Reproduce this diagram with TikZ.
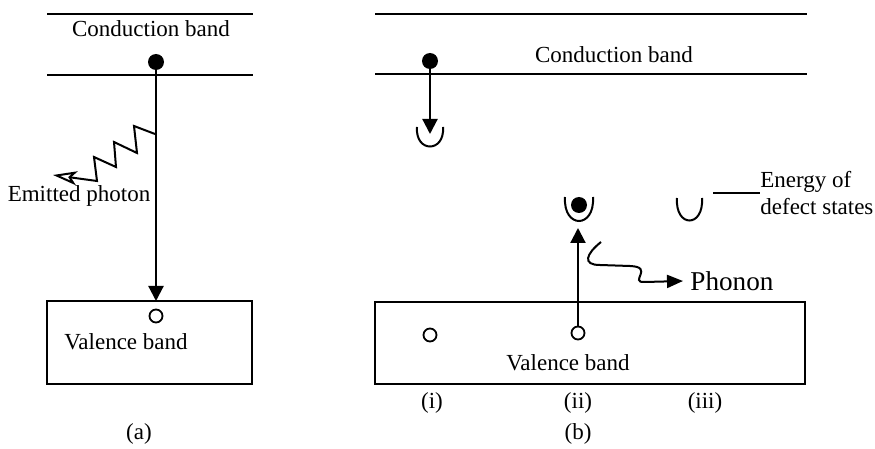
\documentclass[tikz,border=0pt]{standalone}
\usepackage{fontspec}
\setmainfont{Liberation Serif}
\usetikzlibrary{arrows.meta, positioning}
\tikzset{
  band/.style={line width=1pt},
  vbox/.style={draw, line width=0.8pt},
  elec/.style={circle, fill, inner sep=0pt, minimum size=8pt},
  hole/.style={circle, draw, line width=0.9pt, inner sep=0pt, minimum size=6.5pt},
  arrow/.style={-{Triangle[length=7.5pt,width=7.5pt]}, line width=1.1pt},
  cup/.style={line width=1pt},
  lbl/.style={font=\fontsize{11.5}{13.5}\selectfont, inner sep=0pt}
}

\begin{document}
\begin{tikzpicture}[x=0.5pt, y=-0.5pt]
  \useasboundingbox (0,0) rectangle (875,449);

  % (a) Bands
  \draw[band] (47,14) -- (253,14);
  \node[lbl, anchor=base] (cba) at (151,37) {Conduction band};
  \draw[band] (47,75) -- (253,75);
  \draw[vbox] (47,301) rectangle (252,384);
  \node[lbl, anchor=base] (vba) at (126,350) {Valence band};
  \node[lbl, anchor=base] (la) at (139,440) {(a)};

  % (a) Recombination
  \node[elec] (ea) at (156,62) {};
  \node[hole] (ha) at (156,316) {};
  \coordinate (ta) at (156,301);
  \draw[arrow] (ea.south) -- (ta);

  % (a) Photon
  \draw[line width=1pt, -{Stealth[open, length=12pt, width=7pt, inset=3pt]}]
    (155,134) -- (134,126) -- (137,153) -- (114,142) -- (116,167)
    -- (94,157) -- (97,181) -- (53,175);
  \node[lbl, anchor=base] (pha) at (79,202) {Emitted photon};

  % (b) Bands
  \draw[band] (375,14) -- (807,14);
  \node[lbl, anchor=base] (cbb) at (614,63) {Conduction band};
  \draw[band] (375,74) -- (807,74);
  \draw[vbox] (375,302) rectangle (805,384);
  \node[lbl, anchor=base] (vbb) at (568,371) {Valence band};
  \node[lbl, anchor=base] (lb) at (578,440) {(b)};

  % (i)
  \node[elec] (e1) at (430,61) {};
  \draw[cup] (417,127) .. controls (415,153) and (445,153) .. (443,127);
  \coordinate (c1) at (430,134);
  \draw[arrow] (e1.south) -- (c1);
  \node[hole] (h1) at (430,335) {};
  \node[lbl, anchor=base] (li) at (432,409) {(i)};

  % (ii)
  \draw[cup] (565,197) .. controls (563,229) and (595,229) .. (593,197);
  \node[elec] (e2) at (579,205) {};
  \node[hole] (h2) at (578,333) {};
  \coordinate (c2) at (578,228);
  \draw[arrow] (h2.north) -- (c2);
  \node[lbl, anchor=base] (lii) at (578,409) {(ii)};

  % Phonon
  \node[anchor=west, inner sep=3.5pt, font=\fontsize{13.6}{16}\selectfont]
    (ph) at (683,281) {Phonon};
  \draw[line width=1pt, -{Triangle[length=8pt,width=6.5pt]}]
    (601,242) .. controls (586,254) and (582,265) .. (600,265)
    -- (630,266) .. controls (655,267) and (628,283) .. (645,282) -- (ph.west);

  % (iii)
  \draw[cup] (677,198) .. controls (675,228) and (704,228) .. (702,198);
  \node[lbl, anchor=base] (liii) at (705,409) {(iii)};

  % Defect label
  \node[lbl, anchor=north west, align=left] (def) at (760,171)
    {Energy of\\defect states};
  \coordinate (d1) at (713,193);
  \draw[line width=0.8pt] (d1) -- (def.west |- d1);
\end{tikzpicture}
\end{document}
